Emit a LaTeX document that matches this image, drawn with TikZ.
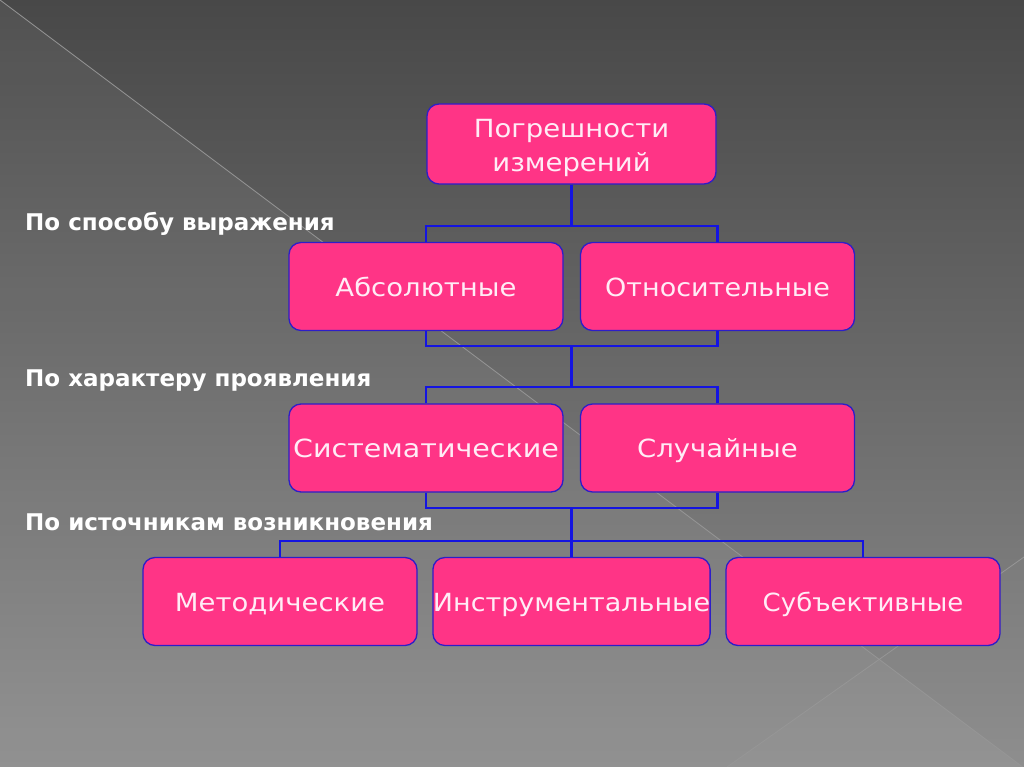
\documentclass[tikz,border=0pt]{standalone}
\usepackage{fontspec}
\setmainfont{DejaVu Sans}
\usetikzlibrary{calc}
\definecolor{boxfill}{RGB}{255,52,134}
\definecolor{boxedge}{RGB}{45,30,200}
\definecolor{linkc}{RGB}{20,20,225}
\definecolor{boxtext}{RGB}{255,236,246}
\definecolor{bgtop}{RGB}{72,72,72}
\definecolor{bgbot}{RGB}{140,140,140}
\definecolor{seam}{RGB}{150,150,150}
\tikzset{
  pinkbox/.style={draw=boxedge, line width=1.3pt, fill=boxfill, rounded corners=12pt,
    minimum width=274pt, minimum height=88pt, inner sep=0pt, text=boxtext,
    font=\fontsize{25}{34}\selectfont, text height=19pt, text depth=0pt},
  link/.style={draw=linkc, line width=2.6pt},
  sidelabel/.style={anchor=base west, text=white, inner sep=0pt,
    font=\bfseries\fontsize{23}{27}\selectfont},
}
\begin{document}
\begin{tikzpicture}[x=1pt,y=-1pt]
\useasboundingbox (0,0) rectangle (1024,767);
% background
\shade[top color=bgtop, bottom color=bgbot] (0,0) rectangle (1024,767);
\fill[white, opacity=0.05] (0,0) -- (1024,768) -- (0,767) -- cycle;
\fill[white, opacity=0.02] (727,767) -- (1024,557) -- (1024,767) -- cycle;
\draw[seam, line width=0.8pt] (0,0) -- (1024,768);
\draw[seam, line width=0.8pt] (727,767) -- (1024,557);

% nodes
\node[pinkbox, minimum width=289pt, minimum height=80pt, text height=0pt, text depth=0pt] (top) at (571.5,144) {};
\node[anchor=base, text=boxtext, inner sep=0pt, font=\fontsize{25}{34}\selectfont] (topa) at (571.5,138)
  {\scalebox{1.1}[1]{Погрешности}};
\node[anchor=base, text=boxtext, inner sep=0pt, font=\fontsize{25}{34}\selectfont] (topb) at (571.5,172)
  {\scalebox{1.1}[1]{измерений}};
\node[pinkbox] (abs) at (426,286.5) {\scalebox{1.1}[1]{Абсолютные}};
\node[pinkbox] (otn) at (717.5,286.5) {\scalebox{1.08}[1]{Относительные}};
\node[pinkbox] (sys) at (426,448) {\scalebox{1.14}[1]{Систематические}};
\node[pinkbox] (slu) at (717.5,448) {\scalebox{1.1}[1]{Случайные}};
\node[pinkbox] (met) at (280,601.5) {\scalebox{1.1}[1]{Методические}};
\node[pinkbox] (ins) at (571.5,601.5) {\scalebox{1.08}[1]{Инструментальные}};
\node[pinkbox] (sub) at (863,601.5) {\scalebox{1.04}[1]{Субъективные}};

% side labels
\node[sidelabel] (l1) at (25,231) {По способу выражения};
\node[sidelabel] (l2) at (25,386) {По характеру проявления};
\node[sidelabel] (l3) at (25,530) {По источникам возникновения};

% junctions
\coordinate (j1) at (571.5,226);
\coordinate (j2) at (571.5,346);
\coordinate (j3) at (571.5,387);
\coordinate (j4) at (571.5,508);
\coordinate (j5) at (571.5,541);

% connectors
\draw[link] (top.south) -- (j1);
\draw[link] (j1) -| (abs.north);
\draw[link] (j1) -| (otn.north);
\draw[link] (abs.south) |- (j2);
\draw[link] (otn.south) |- (j2);
\draw[link] (j2) -- (j3);
\draw[link] (j3) -| (sys.north);
\draw[link] (j3) -| (slu.north);
\draw[link] (sys.south) |- (j4);
\draw[link] (slu.south) |- (j4);
\draw[link] (j4) -- (j5);
\draw[link] (j5) -| (met.north);
\draw[link] (j5) -- (ins.north);
\draw[link] (j5) -| (sub.north);
\end{tikzpicture}
\end{document}
